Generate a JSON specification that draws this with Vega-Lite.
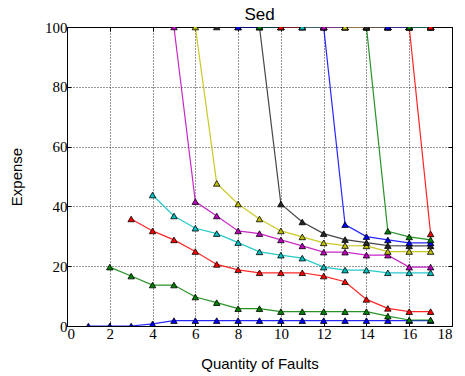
{
  "$schema": "https://vega.github.io/schema/vega-lite/v6.json",
  "autosize": "none",
  "width": 385,
  "height": 299,
  "padding": {"left": 67, "top": 27, "right": 13, "bottom": 50},
  "background": "white",
  "title": {"text": "Sed", "font": "Liberation Sans", "fontSize": 17, "fontWeight": "normal", "color": "black", "offset": -4},
  "config": {
    "view": {"stroke": "black", "strokeWidth": 1},
    "axis": {
      "domain": false,
      "grid": true,
      "gridColor": "black",
      "gridDash": [1, 2],
      "gridOpacity": 0.8,
      "gridWidth": 1,
      "tickColor": "black",
      "tickSize": -4,
      "labelFont": "Liberation Serif",
      "labelFontSize": 15,
      "labelColor": "black",
      "titleFont": "Liberation Sans",
      "titleFontSize": 15,
      "titleFontWeight": "normal",
      "titleColor": "black"
    }
  },
  "data": {"values": [
    {"s":1,"x":1,"y":0},{"s":1,"x":2,"y":0},{"s":1,"x":3,"y":0},{"s":1,"x":4,"y":0.7},{"s":1,"x":5,"y":1.8},{"s":1,"x":6,"y":1.8},{"s":1,"x":7,"y":1.8},{"s":1,"x":8,"y":1.8},{"s":1,"x":9,"y":1.8},{"s":1,"x":10,"y":1.8},{"s":1,"x":11,"y":1.8},{"s":1,"x":12,"y":1.8},{"s":1,"x":13,"y":1.8},{"s":1,"x":14,"y":1.8},{"s":1,"x":15,"y":1.8},{"s":1,"x":16,"y":1.8},{"s":1,"x":17,"y":1.8},
    {"s":2,"x":2,"y":19.7},{"s":2,"x":3,"y":16.7},{"s":2,"x":4,"y":13.7},{"s":2,"x":5,"y":13.7},{"s":2,"x":6,"y":9.7},{"s":2,"x":7,"y":7.8},{"s":2,"x":8,"y":5.8},{"s":2,"x":9,"y":5.8},{"s":2,"x":10,"y":4.8},{"s":2,"x":11,"y":4.8},{"s":2,"x":12,"y":4.8},{"s":2,"x":13,"y":4.8},{"s":2,"x":14,"y":4.8},{"s":2,"x":15,"y":3.3},{"s":2,"x":16,"y":2},{"s":2,"x":17,"y":2},
    {"s":3,"x":3,"y":35.8},{"s":3,"x":4,"y":31.8},{"s":3,"x":5,"y":28.8},{"s":3,"x":6,"y":24.9},{"s":3,"x":7,"y":20.6},{"s":3,"x":8,"y":18.8},{"s":3,"x":9,"y":17.8},{"s":3,"x":10,"y":17.8},{"s":3,"x":11,"y":17.8},{"s":3,"x":12,"y":16.7},{"s":3,"x":13,"y":14.8},{"s":3,"x":14,"y":8.9},{"s":3,"x":15,"y":5.9},{"s":3,"x":16,"y":4.8},{"s":3,"x":17,"y":4.8},
    {"s":4,"x":4,"y":43.8},{"s":4,"x":5,"y":36.8},{"s":4,"x":6,"y":32.7},{"s":4,"x":7,"y":30.9},{"s":4,"x":8,"y":27.9},{"s":4,"x":9,"y":24.8},{"s":4,"x":10,"y":23.7},{"s":4,"x":11,"y":22.7},{"s":4,"x":12,"y":19.7},{"s":4,"x":13,"y":18.7},{"s":4,"x":14,"y":18.7},{"s":4,"x":15,"y":17.8},{"s":4,"x":16,"y":17.8},{"s":4,"x":17,"y":17.8},
    {"s":5,"x":5,"y":100},{"s":5,"x":6,"y":41.6},{"s":5,"x":7,"y":36.8},{"s":5,"x":8,"y":31.8},{"s":5,"x":9,"y":30.9},{"s":5,"x":10,"y":28.8},{"s":5,"x":11,"y":26.8},{"s":5,"x":12,"y":24.7},{"s":5,"x":13,"y":24.7},{"s":5,"x":14,"y":23.7},{"s":5,"x":15,"y":23.7},{"s":5,"x":16,"y":19.7},{"s":5,"x":17,"y":19.7},
    {"s":6,"x":6,"y":100},{"s":6,"x":7,"y":47.7},{"s":6,"x":8,"y":40.8},{"s":6,"x":9,"y":35.8},{"s":6,"x":10,"y":31.8},{"s":6,"x":11,"y":29.8},{"s":6,"x":12,"y":27.8},{"s":6,"x":13,"y":26.9},{"s":6,"x":14,"y":26.8},{"s":6,"x":15,"y":24.9},{"s":6,"x":16,"y":24.9},{"s":6,"x":17,"y":24.9},
    {"s":7,"x":7,"y":100},{"s":7,"x":8,"y":100},{"s":7,"x":9,"y":100},{"s":7,"x":10,"y":40.8},{"s":7,"x":11,"y":34.8},{"s":7,"x":12,"y":30.9},{"s":7,"x":13,"y":28.9},{"s":7,"x":14,"y":27.9},{"s":7,"x":15,"y":26.9},{"s":7,"x":16,"y":26.8},{"s":7,"x":17,"y":26.8},
    {"s":8,"x":8,"y":100},{"s":8,"x":9,"y":100},{"s":8,"x":10,"y":100},{"s":8,"x":11,"y":100},{"s":8,"x":12,"y":100},{"s":8,"x":13,"y":33.9},{"s":8,"x":14,"y":29.9},{"s":8,"x":15,"y":28.8},{"s":8,"x":16,"y":27.8},{"s":8,"x":17,"y":27.8},
    {"s":9,"x":9,"y":100},{"s":9,"x":10,"y":100},{"s":9,"x":11,"y":100},{"s":9,"x":12,"y":100},{"s":9,"x":13,"y":100},{"s":9,"x":14,"y":100},{"s":9,"x":15,"y":31.7},{"s":9,"x":16,"y":29.8},{"s":9,"x":17,"y":28.8},
    {"s":10,"x":10,"y":100},{"s":10,"x":11,"y":100},{"s":10,"x":12,"y":100},{"s":10,"x":13,"y":100},{"s":10,"x":14,"y":100},{"s":10,"x":15,"y":100},{"s":10,"x":16,"y":100},{"s":10,"x":17,"y":30.8},
    {"s":11,"x":11,"y":100},{"s":11,"x":12,"y":100},{"s":11,"x":13,"y":100},{"s":11,"x":14,"y":100},{"s":11,"x":15,"y":100},{"s":11,"x":16,"y":100},{"s":11,"x":17,"y":100},
    {"s":12,"x":12,"y":100},{"s":12,"x":13,"y":100},{"s":12,"x":14,"y":100},{"s":12,"x":15,"y":100},{"s":12,"x":16,"y":100},{"s":12,"x":17,"y":100},
    {"s":13,"x":13,"y":100},{"s":13,"x":14,"y":100},{"s":13,"x":15,"y":100},{"s":13,"x":16,"y":100},{"s":13,"x":17,"y":100},
    {"s":14,"x":14,"y":100},{"s":14,"x":15,"y":100},{"s":14,"x":16,"y":100},{"s":14,"x":17,"y":100},
    {"s":15,"x":15,"y":100},{"s":15,"x":16,"y":100},{"s":15,"x":17,"y":100},
    {"s":16,"x":16,"y":100},{"s":16,"x":17,"y":100},
    {"s":17,"x":17,"y":100}
  ]},
  "layer": [
    {
      "mark": {"type": "line", "clip": true, "strokeWidth": 1.2, "strokeOpacity": 0.85},
      "encoding": {
        "x": {"field": "x", "type": "quantitative", "scale": {"domain": [0, 18], "nice": false}, "axis": {"orient": "bottom", "title": "Quantity of Faults", "values": [0,2,4,6,8,10,12,14,16,18], "labelPadding": 4, "titlePadding": 15}},
        "y": {"field": "y", "type": "quantitative", "scale": {"domain": [0, 100], "nice": false}, "axis": {"orient": "left", "title": "Expense", "values": [0,20,40,60,80,100], "labelPadding": 4, "titlePadding": 20}},
        "color": {"field": "s", "type": "nominal", "legend": null, "sort": null,
          "scale": {"domain": [1,2,3,4,5,6,7,8,9,10,11,12,13,14,15,16,17],
            "range": ["#0000FF","#008000","#FF0000","#00BFBF","#BF00BF","#BFBF00","#262626","#0000FF","#008000","#FF0000","#00BFBF","#BF00BF","#BFBF00","#262626","#0000FF","#008000","#FF0000"]}},
        "detail": {"field": "s"},
        "order": {"field": "x", "type": "quantitative"}
      }
    },
    {
      "mark": {"type": "point", "shape": "triangle-up", "filled": true, "clip": true, "size": 42, "stroke": "black", "strokeWidth": 0.8, "opacity": 1},
      "encoding": {
        "x": {"field": "x", "type": "quantitative", "axis": {"orient": "top", "labels": false, "title": null, "grid": false, "values": [0,2,4,6,8,10,12,14,16,18]}},
        "y": {"field": "y", "type": "quantitative", "axis": {"orient": "right", "labels": false, "title": null, "grid": false, "values": [0,20,40,60,80,100]}},
        "fill": {"field": "s", "type": "nominal", "legend": null,
          "scale": {"domain": [1,2,3,4,5,6,7,8,9,10,11,12,13,14,15,16,17],
            "range": ["#0000FF","#008000","#FF0000","#00BFBF","#BF00BF","#BFBF00","#262626","#0000FF","#008000","#FF0000","#00BFBF","#BF00BF","#BFBF00","#262626","#0000FF","#008000","#FF0000"]}}
      }
    }
  ],
  "resolve": {"axis": {"x": "independent", "y": "independent"}}
}
